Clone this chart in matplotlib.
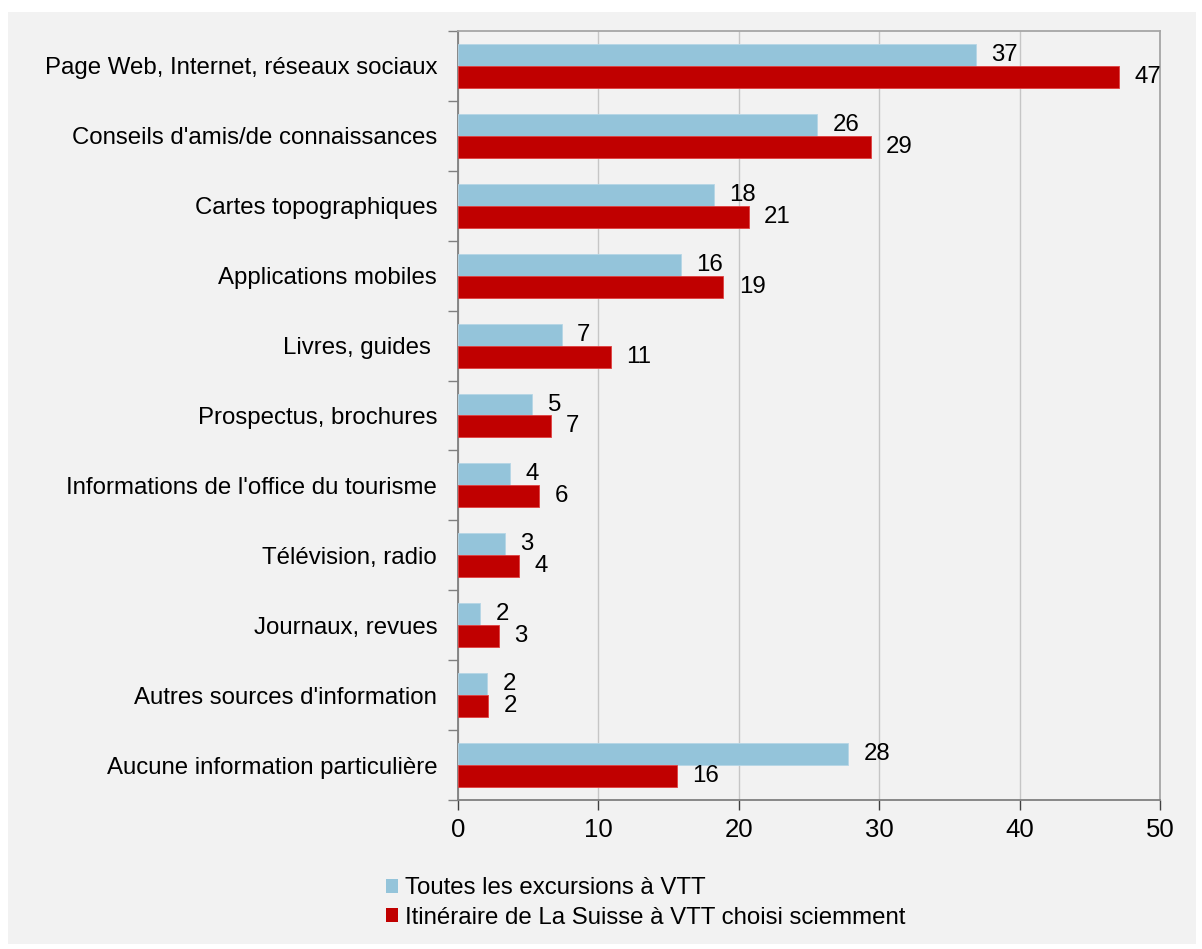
import matplotlib
matplotlib.use("Agg")
import matplotlib.pyplot as plt
from matplotlib.patches import Rectangle, Patch
import numpy as np

plt.rcParams['font.family'] = ['Liberation Sans', 'DejaVu Sans']

categories = [
    "Page Web, Internet, réseaux sociaux",
    "Conseils d'amis/de connaissances",
    "Cartes topographiques",
    "Applications mobiles",
    "Livres, guides ",
    "Prospectus, brochures",
    "Informations de l'office du tourisme",
    "Télévision, radio",
    "Journaux, revues",
    "Autres sources d'information",
    "Aucune information particulière",
]
toutes = [36.9, 25.6, 18.2, 15.9, 7.4, 5.3, 3.7, 3.35, 1.6, 2.07, 27.8]
suisse = [47.1, 29.4, 20.7, 18.9, 10.9, 6.6, 5.8, 4.35, 2.9, 2.16, 15.6]
series_names = ["Toutes les excursions à VTT",
                "Itinéraire de La Suisse à VTT choisi sciemment"]
xticks = [0, 10, 20, 30, 40, 50]

blue = "#94C4DA"
red = "#C00000"
bg = "#F2F2F2"
fs = 17.3

fig = plt.figure(figsize=(12.02, 9.49), dpi=100)
fig.patch.set_facecolor("white")
fig.patches.append(Rectangle((8/1202, 1-944/949), (1196-8)/1202, (944-12)/949,
                             transform=fig.transFigure, facecolor=bg,
                             edgecolor="none", zorder=-10))

ax = fig.add_axes([458/1202, 1-800/949, (1160-458)/1202, (800-31)/949])
ax.set_facecolor(bg)

y = np.arange(len(categories))
h = 0.314
ax.barh(y - h/2, toutes, height=h, color=blue, edgecolor="#b5d6e6", linewidth=0.6, zorder=3)
ax.barh(y + h/2, suisse, height=h, color=red, edgecolor="#e04040", linewidth=0.6, zorder=3)

for yi, v in zip(y, toutes):
    ax.annotate(f"{round(v)}", (v, yi - h/2), xytext=(11, 0), textcoords="offset points",
                ha="left", va="center", fontsize=fs, color="black")
for yi, v in zip(y, suisse):
    ax.annotate(f"{round(v)}", (v, yi + h/2), xytext=(11, 0), textcoords="offset points",
                ha="left", va="center", fontsize=fs, color="black")

ax.set_xlim(0, 50)
ax.set_ylim(len(categories) - 0.5, -0.5)
ax.set_xticks(xticks)
ax.set_xticklabels([str(t) for t in xticks], fontsize=18.5)
ax.set_yticks(y)
ax.set_yticklabels(categories, fontsize=fs)
ax.set_yticks(np.arange(len(categories) + 1) - 0.5, minor=True)
ax.tick_params(axis="y", which="major", length=0, pad=15)
ax.tick_params(axis="y", which="minor", length=7, color="#808080", width=1)
ax.tick_params(axis="x", which="major", length=7, color="#404040", width=1, pad=6)

ax.grid(axis="x", color="#c6c6c6", linewidth=1, zorder=0)
ax.set_axisbelow(True)
for s in ["left", "bottom"]:
    ax.spines[s].set_color("#7f7f7f")
    ax.spines[s].set_linewidth(1.3)
for s in ["top", "right"]:
    ax.spines[s].set_color("#a6a6a6")
    ax.spines[s].set_linewidth(1.3)

handles = [Patch(facecolor=blue, edgecolor="none"), Patch(facecolor=red, edgecolor="none")]
fig.legend(handles, series_names, loc="center left",
           bbox_to_anchor=(386/1202, 1-903/949), frameon=False, fontsize=fs,
           handlelength=0.52, handleheight=0.52, handletextpad=0.25,
           labelspacing=0.33, borderpad=0, borderaxespad=0)

fig.savefig("out.png", dpi=100, facecolor="white")
